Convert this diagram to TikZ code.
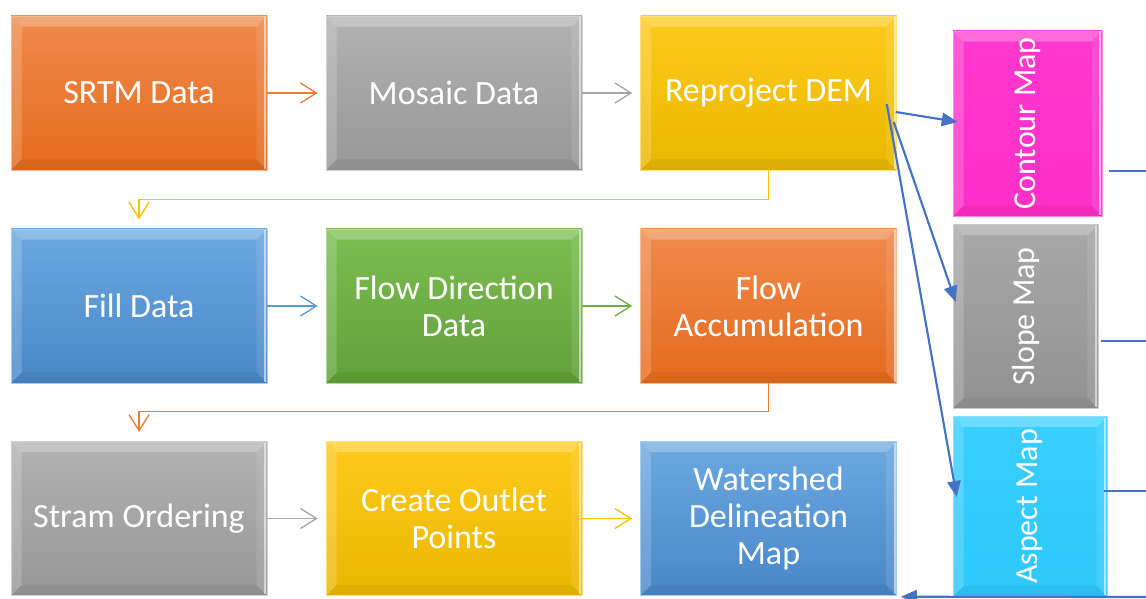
\documentclass[tikz,border=0pt]{standalone}
\usepackage{fontspec}
\setmainfont{Carlito}
\usepackage{graphicx}
\usetikzlibrary{arrows.meta,calc}
\definecolor{orT}{HTML}{F08A4C}\definecolor{orB}{HTML}{E56B1D}
\definecolor{grT}{HTML}{B2B2B2}\definecolor{grB}{HTML}{979797}
\definecolor{yeT}{HTML}{FFCA1C}\definecolor{yeB}{HTML}{E9B800}
\definecolor{blT}{HTML}{6CA9E2}\definecolor{blB}{HTML}{4886C7}
\definecolor{gnT}{HTML}{7CBE50}\definecolor{gnB}{HTML}{62A03A}
\definecolor{magT}{HTML}{FF38CE}\definecolor{magB}{HTML}{FF2EC8}
\definecolor{cyT}{HTML}{38CFFF}\definecolor{cyB}{HTML}{2EC8FC}
\definecolor{slT}{HTML}{A8A8A8}\definecolor{slB}{HTML}{929292}
\definecolor{arrOr}{HTML}{ED7D31}\definecolor{arrGr}{HTML}{A5A5A5}
\definecolor{arrYe}{HTML}{FFC000}\definecolor{arrBl}{HTML}{5B9BD5}
\definecolor{arrGn}{HTML}{70AD47}\definecolor{conn}{HTML}{4472C4}
\tikzset{
  bevel/.style={path picture={
    \fill[white,opacity=0.26] (path picture bounding box.north west) -- (path picture bounding box.north east)
      -- ([shift={(-8pt,-8pt)}]path picture bounding box.north east) -- ([shift={(8pt,-8pt)}]path picture bounding box.north west) -- cycle;
    \fill[white,opacity=0.18] (path picture bounding box.north west) -- (path picture bounding box.south west)
      -- ([shift={(8pt,8pt)}]path picture bounding box.south west) -- ([shift={(8pt,-8pt)}]path picture bounding box.north west) -- cycle;
    \fill[black,opacity=0.05] (path picture bounding box.south west) -- (path picture bounding box.south east)
      -- ([shift={(-8pt,8pt)}]path picture bounding box.south east) -- ([shift={(8pt,8pt)}]path picture bounding box.south west) -- cycle;
    \fill[white,opacity=0.10] (path picture bounding box.north east) -- (path picture bounding box.south east)
      -- ([shift={(-8pt,8pt)}]path picture bounding box.south east) -- ([shift={(-8pt,-8pt)}]path picture bounding box.north east) -- cycle;
    \fill[white,opacity=0.55] ([shift={(-2.2pt,-1pt)}]path picture bounding box.north east) rectangle ([shift={(-0.6pt,1pt)}]path picture bounding box.south east);
  }},
  stepbox/.style 2 args={top color=#1, bottom color=#2, draw=#1!60!white, line width=0.4pt,
    bevel, inner sep=0pt, minimum width=192pt, minimum height=115.5pt,
    text=white, align=center, font=\fontsize{25.5pt}{28pt}\selectfont},
  sidebox/.style n args={4}{top color=#1, bottom color=#2, draw=#1!60!white, line width=0.4pt,
    bevel, inner sep=0pt, minimum width=#3, minimum height=#4,
    text=white, align=center, font=\fontsize{24pt}{28pt}\selectfont},
  flow/.style={draw=#1, line width=1pt, -{Straight Barb[length=12pt,width=15pt,line width=1pt]}, shorten >=6pt},
  elbow/.style={draw=#1, line width=1pt, -{Straight Barb[length=12pt,width=15pt,line width=1pt]}, shorten >=7pt},
  blue/.style={draw=conn, line width=1.6pt, -{Triangle[length=12pt,width=10pt]}},
  thinblue/.style={draw=conn, line width=1.1pt}
}
\begin{document}
\begin{tikzpicture}[x=0.75pt,y=-0.75pt]
\useasboundingbox (0,0) rectangle (1146,599);
% row 1
\node[stepbox={orT}{orB}] (srtm) at (139,93) {SRTM Data};
\node[stepbox={grT}{grB}] (mosaic) at (454,93) {Mosaic Data};
\node[stepbox={yeT}{yeB}] (reproj) at (768.5,93) {Reproject DEM};
% row 2
\node[stepbox={blT}{blB}] (fill) at (139,306) {Fill Data};
\node[stepbox={gnT}{gnB}] (flowdir) at (454,306) {Flow Direction\\Data};
\node[stepbox={orT}{orB}] (flowacc) at (768.5,306) {Flow\\Accumulation};
% row 3
\node[stepbox={grT}{grB}] (stram) at (139,518.5) {Stram Ordering};
\node[stepbox={yeT}{yeB}] (outlet) at (454,518.5) {Create Outlet\\Points};
\node[stepbox={blT}{blB}] (watershed) at (768.5,518.5) {Watershed\\Delineation\\Map};
% right column
\node[sidebox={magT}{magB}{111.75pt}{138.75pt}] (contour) at (1027.5,123.5) {\rotatebox{90}{Contour Map}};
\node[sidebox={slT}{slB}{108.75pt}{138pt}] (slope) at (1025.5,316.5) {\rotatebox{90}{Slope Map}};
\node[sidebox={cyT}{cyB}{115.5pt}{135pt}] (aspect) at (1030,506.5) {\rotatebox{90}{Aspect Map}};
% horizontal flows
\draw[flow=arrOr] (srtm.east) -- (mosaic.west);
\draw[flow=arrGr] (mosaic.east) -- (reproj.west);
\draw[flow=arrBl] (fill.east) -- (flowdir.west);
\draw[flow=arrGn] (flowdir.east) -- (flowacc.west);
\draw[flow=arrGr] (stram.east) -- (outlet.west);
\draw[flow=arrYe] (outlet.east) -- (watershed.west);
% elbows
\draw[elbow=arrYe] (reproj.south) -- ($(reproj.south)+(0,29)$) -| (fill.north);
\draw[elbow=arrOr] (flowacc.south) -- ($(flowacc.south)+(0,28)$) -| (stram.north);
% blue connectors
\draw[blue] ($(reproj.east)+(-1,19)$) -- ($(contour.west)+(5,-1.5)$);
\draw[blue] ($(reproj.east)+(-3,29)$) -- ($(slope.west)+(3,-14.5)$);
\draw[blue] ($(reproj.east)+(-10,11)$) -- ($(aspect.west)+(4,-9.5)$);
% lines leaving to the right
\coordinate (e1) at (1146,171);
\coordinate (e2) at (1146,341);
\coordinate (e3) at (1146,491);
\coordinate (e4) at (1146,597);
\draw[thinblue] ($(contour.east)+(7,47.5)$) -- (e1);
\draw[thinblue] ($(slope.east)+(3,24.5)$) -- (e2);
\draw[thinblue] ($(aspect.east)+(-3,-15.5)$) -- (e3);
\draw[blue] (e4) -- ($(watershed.south east)+(4,1)$);
\end{tikzpicture}
\end{document}
